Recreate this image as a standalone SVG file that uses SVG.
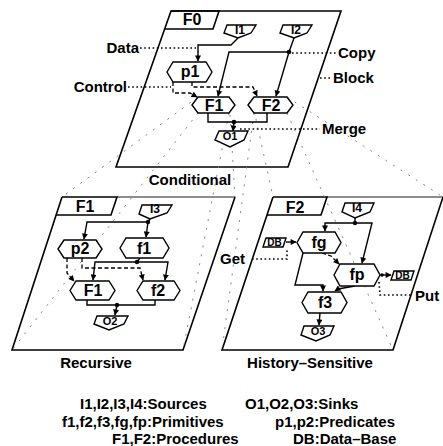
<svg xmlns="http://www.w3.org/2000/svg" width="443" height="446" viewBox="0 0 443 446">
<defs>
<marker id="ah" viewBox="0 0 10 10" refX="9" refY="5" markerWidth="7" markerHeight="6" markerUnits="userSpaceOnUse" orient="auto"><path d="M0,0 L10,5 L0,10 Z" fill="#000"/></marker>
</defs>
<style>
text{font-family:"Liberation Sans",Arial,Helvetica,sans-serif;font-weight:bold;fill:#000}
.blk{fill:#fff;stroke:none}
.edge{fill:none;stroke:#000;stroke-width:1.6}
.thin{fill:none;stroke:#000;stroke-width:0.9}
.nd{fill:#fff;stroke:#000;stroke-width:1.4}
.c{fill:none;stroke:#000;stroke-width:1.4}
.ctl{fill:none;stroke:#000;stroke-width:1.3;stroke-dasharray:4 2.5}
.dot{fill:none;stroke:#000;stroke-width:1.6;stroke-dasharray:1.6 2.6}
.prj{fill:none;stroke:#777;stroke-width:0.9;stroke-dasharray:2 7}
.arr{marker-end:url(#ah)}
.lb{font-size:15px}
.nl{font-size:16px;text-anchor:middle}
.sl{font-size:12px;text-anchor:middle}
.ol{font-size:11px;text-anchor:middle}
.db{font-size:10px;text-anchor:middle}
.mid{text-anchor:middle}
.end{text-anchor:end}
</style>

<g id="block-F0">
<polygon class="blk" points="171,11 341,11 288,167 116,167"/>
<polygon class="edge" points="171,11 341,11 288,167 116,167"/>
<path class="edge" d="M171,11 H219 L213,29 H165"/>
<text class="nl" x="192" y="25">F0</text>
</g>
<g id="block-F1">
<polygon class="blk" points="62,197 235,197 183,350 12,350"/>
<path class="edge" d="M62,197 L12,350 H183 L235,197"/>
<path class="thin" d="M117,197 H235"/>
<path class="edge" d="M62,197 H117 L111,215 H56"/>
<text class="nl" x="85" y="212">F1</text>
</g>
<g id="block-F2">
<polygon class="blk" points="273,197 443,197 393,350 222,350"/>
<path class="edge" d="M273,197 L222,350 H393 L443,197"/>
<path class="thin" d="M327,197 H443"/>
<path class="edge" d="M273,197 H327 L321,215 H267"/>
<text class="nl" x="295" y="213">F2</text>
</g>

<g id="projections">
<path class="prj" d="M198,97 L62,197"/>
<path class="prj" d="M198,113 L12,350"/>
<path class="prj" d="M229,97 L235,197"/>
<path class="prj" d="M229,113 L183,350"/>
<path class="prj" d="M254,110 L273,197"/>
<path class="prj" d="M287,97 L443,197"/>
<path class="prj" d="M254,113 L222,350"/>
<path class="prj" d="M287,113 L393,350"/>
</g>

<g id="connectors">
<path class="c arr" d="M238,38 L231,45 H198 V61"/>
<path class="c" d="M294,38 L289,52"/>
<path class="c arr" d="M289,52 H229 L218,96"/>
<path class="c arr" d="M289,52 L276,96"/>
<circle cx="289" cy="52" r="2.3"/>
<path class="ctl arr" d="M173,82 V93 H190 L197,97"/>
<path class="ctl arr" d="M192,82 V87 H253 L257,96"/>
<path class="c" d="M208,113 V122 H267 V113"/>
<path class="c arr" d="M234,122 L233,131"/>
<circle cx="234" cy="122" r="2.3"/>
<path class="c" d="M150,219 L148,222"/>
<path class="c arr" d="M148,222 H87 L84,239"/>
<path class="c arr" d="M148,222 L146,237"/>
<circle cx="148" cy="222" r="2.2"/>
<path class="c" d="M140,258 L137,262"/>
<path class="c arr" d="M137,262 H95 L93,280"/>
<path class="c arr" d="M137,262 H168 L165,280"/>
<circle cx="137" cy="262" r="2.2"/>
<path class="ctl arr" d="M67,258 V273 L74,281"/>
<path class="ctl arr" d="M82,258 V268 H140 L143,280"/>
<path class="c" d="M87,300 V305 H155 V300"/>
<path class="c arr" d="M117,305 L115,315"/>
<circle cx="117" cy="305" r="2.2"/>
<path class="c" d="M355,218 V223"/>
<path class="c arr" d="M355,223 H325 V231"/>
<path class="c arr" d="M355,223 H372 L362,263"/>
<circle cx="355" cy="223" r="2.2"/>
<path class="c arr" d="M286,242 L296,242"/>
<path class="ctl arr" d="M322,253 L331,256 L339,264"/>
<path class="c arr" d="M381,275 L391,275"/>
<circle cx="382" cy="275" r="1.8"/>
<path class="c arr" d="M303,253 L295,285 H323 V291"/>
<path class="c arr" d="M355,286 L338,289 L335,291"/>
<path class="c arr" d="M320,313 L319,325"/>
</g>

<g id="leaders">
<path class="dot" d="M140,48 H196"/>
<path class="dot" d="M128,87 H171"/>
<path class="dot" d="M292,53 H336"/>
<path class="dot" d="M320,78 H331"/>
<path class="dot" d="M240,129 H320"/>
<path class="dot" d="M252,259 H287 V249"/>
<path class="dot" d="M379,282 L380,295 H413"/>
</g>

<g id="node-I1"><path class="nd" d="M227,25 H256 L251,33 L238,38 L224,33 Z"/><text class="sl" x="240" y="34">I1</text></g>
<g id="node-I2"><path class="nd" d="M283,25 H312 L307,33 L294,38 L280,33 Z"/><text class="sl" x="296" y="34">I2</text></g>
<g id="node-p1"><polygon class="nd" points="167,72 173,62 206,62 212,72 206,82 173,82"/><text class="nl" x="190" y="77">p1</text></g>
<g id="node-F0-F1"><polygon class="nd" points="192,105 198,97 229,97 235,105 229,113 198,113"/><text class="nl" x="214" y="111">F1</text></g>
<g id="node-F0-F2"><polygon class="nd" points="248,105 254,97 287,97 293,105 287,113 254,113"/><text class="nl" x="271" y="111">F2</text></g>
<g id="node-O1"><path class="nd" d="M219,131 H248 L244,140 L230,147 L215,140 Z"/><text class="ol" x="230" y="140">O1</text></g>

<g id="node-I3"><path class="nd" d="M142,205 H172 L167,213 L150,219 L139,214 Z"/><text class="sl" x="155" y="213">I3</text></g>
<g id="node-p2"><polygon class="nd" points="58,249 64,240 96,240 102,249 96,258 64,258"/><text class="nl" x="80" y="254">p2</text></g>
<g id="node-f1"><polygon class="nd" points="120,248 126,238 163,238 169,248 163,258 126,258"/><text class="nl" x="144" y="254">f1</text></g>
<g id="node-F1-F1"><polygon class="nd" points="70,290.5 76,281 109,281 115,290.5 109,300 76,300"/><text class="nl" x="93" y="296">F1</text></g>
<g id="node-f2"><polygon class="nd" points="137,290.5 143,281 174,281 180,290.5 174,300 143,300"/><text class="nl" x="158" y="296">f2</text></g>
<g id="node-O2"><path class="nd" d="M97,316 H128 L124,324 L109,330 L94,324 Z"/><text class="ol" x="110" y="325">O2</text></g>

<g id="node-I4"><path class="nd" d="M345,203 H374 L370,212 L355,218 L342,212 Z"/><text class="sl" x="357" y="212">I4</text></g>
<g id="node-DB-get"><path class="nd" d="M266,238 H286 L283,247 H263 Z"/><text class="db" x="274.5" y="246">DB</text></g>
<g id="node-fg"><polygon class="nd" points="297,242.5 303,232 335,232 341,242.5 335,253 303,253"/><text class="nl" x="319" y="248">fg</text></g>
<g id="node-fp"><polygon class="nd" points="334,275 340,264 374,264 380,275 374,286 340,286"/><text class="nl" x="357" y="280">fp</text></g>
<g id="node-DB-put"><path class="nd" d="M394,271 H414 L411,280 H391 Z"/><text class="db" x="402.5" y="279">DB</text></g>
<g id="node-f3"><polygon class="nd" points="302,302.5 308,292 341,292 347,302.5 341,313 308,313"/><text class="nl" x="325" y="308">f3</text></g>
<g id="node-O3"><path class="nd" d="M304,326 H334 L330,335 L316,341 L301,335 Z"/><text class="ol" x="318" y="335">O3</text></g>

<g id="labels">
<text class="lb end" x="139" y="53">Data</text>
<text class="lb end" x="127" y="92">Control</text>
<text class="lb" x="338" y="58">Copy</text>
<text class="lb" x="333" y="83">Block</text>
<text class="lb" x="322" y="134">Merge</text>
<text class="lb mid" x="190" y="185">Conditional</text>
<text class="lb" x="220" y="264">Get</text>
<text class="lb" x="415" y="301">Put</text>
<text class="lb mid" x="96" y="368">Recursive</text>
<text class="lb mid" x="310" y="368">History–Sensitive</text>
</g>

<g id="legend">
<text class="lb" x="80" y="409">I1,I2,I3,I4:Sources</text>
<text class="lb" x="245" y="409">O1,O2,O3:Sinks</text>
<text class="lb" x="62" y="427">f1,f2,f3,fg,fp:Primitives</text>
<text class="lb" x="275" y="427">p1,p2:Predicates</text>
<text class="lb" x="112" y="444">F1,F2:Procedures</text>
<text class="lb" x="293" y="444">DB:Data–Base</text>
</g>
</svg>
